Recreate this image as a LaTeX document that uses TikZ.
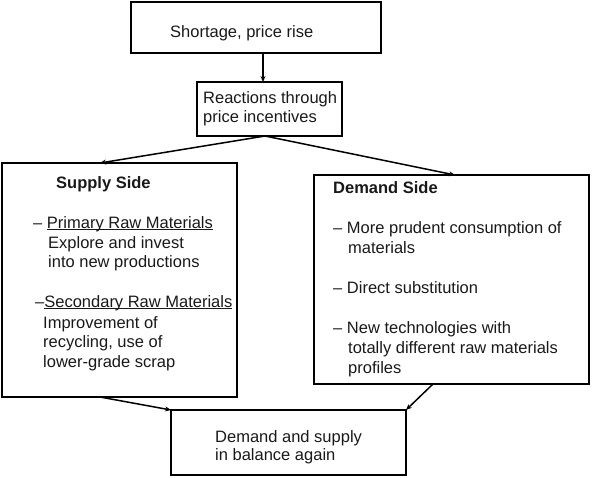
\documentclass[tikz,border=0pt]{standalone}
\usepackage{fontspec}
\setmainfont{Liberation Sans}
\usetikzlibrary{arrows.meta}
\newcommand\myul[1]{\setbox0\hbox{#1}\rlap{\rule[-2.2pt]{\wd0}{1pt}}\box0}
\begin{document}
\begin{tikzpicture}[x=1pt,y=-1pt,
  box/.style={draw=black,line width=1.8pt,inner sep=0pt,outer sep=0pt,anchor=north west},
  txt/.style={anchor=base west,inner sep=0pt,font=\fontsize{16.5}{19.5}\selectfont,text=black!90},
  arr/.style={line width=1.5pt,-{Stealth[length=6pt,width=5pt]}}]
\useasboundingbox (0,0) rectangle (592,477);
% boxes
\node[box,minimum width=250pt,minimum height=51pt] (top) at (131,2) {};
\node[box,minimum width=145pt,minimum height=54pt] (react) at (197,82) {};
\node[box,minimum width=235pt,minimum height=234pt] (supply) at (2,163) {};
\node[box,minimum width=275pt,minimum height=209pt] (demand) at (314,175) {};
\node[box,minimum width=235pt,minimum height=65pt] (balance) at (171,410) {};
% texts
\node[txt] (t1) at (170,37) {Shortage, price rise};
\node[txt] (r1) at (203,103) {Reactions through};
\node[txt] (r2) at (203,122) {price incentives};
\node[txt,font=\fontsize{16.5}{19.5}\selectfont\bfseries] (s0) at (56,188) {Supply Side};
\node[txt] (s1) at (33,228) {\textendash\ \myul{Primary Raw Materials}};
\node[txt] (s2) at (48,248) {Explore and invest};
\node[txt] (s3) at (48,267) {into new productions};
\node[txt] (s4) at (35,307) {\textendash\myul{Secondary Raw Materials}};
\node[txt] (s5) at (43,328) {Improvement of};
\node[txt] (s6) at (43,347) {recycling, use of};
\node[txt] (s7) at (43,367) {lower-grade scrap};
\node[txt,font=\fontsize{16.5}{19.5}\selectfont\bfseries] (d0) at (333,193) {Demand Side};
\node[txt] (d1) at (333,233) {\textendash\ More prudent consumption of};
\node[txt] (d2) at (348,253) {materials};
\node[txt] (d3) at (333,293) {\textendash\ Direct substitution};
\node[txt] (d4) at (333,333) {\textendash\ New technologies with};
\node[txt] (d5) at (348,353) {totally different raw materials};
\node[txt] (d6) at (348,373) {profiles};
\node[txt] (b1) at (215,442) {Demand and supply};
\node[txt] (b2) at (215,460) {in balance again};
% connectors
\draw[arr] ([xshift=7pt]top.south) -- ([xshift=-6.5pt]react.north);
\draw[arr] ([xshift=-4.5pt]react.south) -- ([xshift=-19.5pt]supply.north);
\draw[arr] ([xshift=-4.5pt]react.south) -- ([xshift=3.5pt]demand.north);
\draw[arr] ([xshift=-19.5pt]supply.south) -- (balance.north west);
\draw[arr] ([xshift=-18.5pt]demand.south) -- (balance.north east);
\end{tikzpicture}
\end{document}
